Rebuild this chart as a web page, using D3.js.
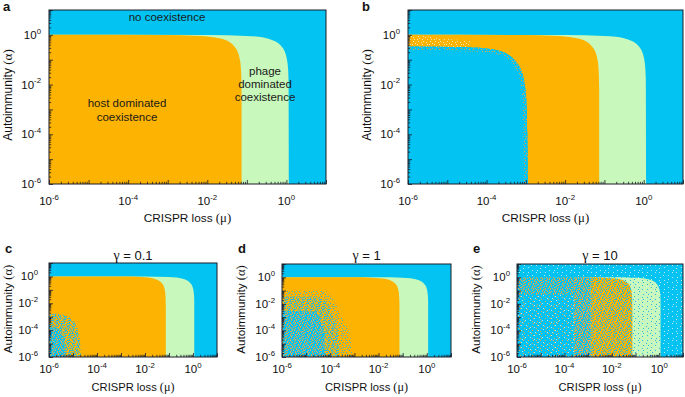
<!DOCTYPE html>
<html><head><meta charset="utf-8">
<script src="https://cdn.jsdelivr.net/npm/d3@7"></script>
<style>
body{margin:0;background:#fff;}
svg{display:block;font-family:"Liberation Sans",Arial,Helvetica,sans-serif;}
</style>
</head><body>
<svg id="chart" width="685" height="397"></svg>
<script>
// ---------------- data ----------------
const panelIds = ["a", "b", "c", "d", "e"];
const gammaValues = ["", "", "0.1", "1", "10"];
const xDomain = [1e-6, 10];
const yDomain = [1e-6, 10];
const tickExponents = [-6, -4, -2, 0];
const xTitle = ["CRISPR loss ", "(μ)"];
const yTitle = ["Autoimmunity ", "(α)"];
const regionLabelsA = {
  none: ["no coexistence"],
  host: ["host dominated", "coexistence"],
  phage: ["phage", "dominated", "coexistence"]
};
// host dominated coexistence boundary (mu, alpha)
const hostMu    = [1e-6, 1e-3, 5e-3, 0.01, 0.02, 0.03, 0.04, 0.05, 0.06, 0.065, 0.07, 0.072, 0.0735, 0.074];
const hostAlpha = [1, 0.99, 0.93, 0.86, 0.73, 0.6, 0.46, 0.32, 0.19, 0.12, 0.055, 0.027, 0.007, 1e-6];
// phage dominated coexistence boundary
const phageMu    = [1e-6, 0.01, 0.1, 0.2, 0.3, 0.4, 0.5, 0.6, 0.7, 0.8, 0.9, 1.0, 1.05, 1.1, 1.13, 1.15];
const phageAlpha = [1, 0.99, 0.91, 0.83, 0.74, 0.65, 0.57, 0.48, 0.39, 0.3, 0.22, 0.13, 0.087, 0.043, 0.017, 1e-6];
// panel b: inner no-coexistence region
const bInnerMu    = [1e-6, 4.5e-5, 2.1e-4, 3.9e-4, 5.8e-4, 7.7e-4, 9.3e-4, 1.03e-3, 1.09e-3, 1.13e-3];
const bInnerAlpha = [0.34, 0.31, 0.23, 0.145, 0.078, 0.036, 0.011, 0.0023, 1.1e-4, 1e-6];
// panel b: pale speckle band near alpha = 1
const bPaleMu    = [1e-6, 2e-6, 5e-6, 1.2e-5, 4e-5];
const bPaleAlpha = [1, 0.95, 0.8, 0.66, 0.6];
// panel c: mixed (stochastic) region
const cOuterMu    = [1e-6, 4e-6, 1e-5, 1.6e-5, 2e-5, 2.1e-5];
const cOuterAlpha = [1.8e-3, 1.4e-3, 5e-4, 1e-4, 1e-5, 1e-6];
const cCoreMu     = [1e-6, 2.5e-6, 4e-6, 5e-6];
const cCoreAlpha  = [2e-4, 1.2e-4, 3e-5, 1e-6];
// panel d: mixed region
const dOuterMu    = [1e-6, 5e-5, 1e-4, 1.9e-4, 3e-4, 5e-4, 7e-4, 8e-4];
const dOuterAlpha = [0.11, 0.1, 0.045, 6e-3, 1e-3, 2e-4, 2e-5, 1e-6];
const dMidMu      = [1e-6, 3e-5, 8e-5, 1.3e-4, 2e-4, 2.6e-4];
const dMidAlpha   = [0.035, 0.03, 8e-3, 1e-3, 1e-4, 1e-6];
const dCoreMu     = [1e-6, 2e-5, 4e-5, 5.5e-5, 6e-5];
const dCoreAlpha  = [3e-3, 2.5e-3, 5e-4, 5e-5, 1e-6];
// panel e: mu band edges inside host region, alpha of top band
const eBandEdges = [2.5e-4, 1.3e-3];
const eTopBandAlpha = 0.05;

// ---------------- style / layout ----------------
const COL = {blue: "#02C3F2", orange: "#FDB301", green: "#C8F8BB", ink: "#1c1c2a",
             dotO: "#EAA640", dotB: "#2DBAD6", pale: "#F6E7A8", light: "#B8E8EE"};
const layout = {
  a: {x0: 49, x1: 326, y0: 10, y1: 184, big: true, gap: 8},
  b: {x0: 408, x1: 683, y0: 10, y1: 184, big: true, gap: 8},
  c: {x0: 49, x1: 217, y0: 263, y1: 357, gap: 11},
  d: {x0: 282, x1: 451, y0: 264, y1: 357, gap: 7},
  e: {x0: 517, x1: 683, y0: 264, y1: 357, gap: 7}
};
const SERIF = "'Liberation Serif','Times New Roman',serif";

const svg = d3.select("#chart");
const defs = svg.append("defs");
let pid = 0;
const T = 17, A1 = 0.7548776662, A2 = 0.5698402910;
// texture tile: dots spread with a low-discrepancy sequence
function pattern(bg, layers) {
  const id = "pat" + (pid++);
  const p = defs.append("pattern").attr("id", id).attr("patternUnits", "userSpaceOnUse")
    .attr("width", T).attr("height", T);
  p.append("rect").attr("width", T).attr("height", T).attr("fill", bg);
  layers.forEach(([color, frac], j) => {
    const n = Math.round(frac * T * T), off = j * 131 + 7;
    for (let i = 0; i < n; i++) {
      const k = i + off;
      const px = Math.floor(((0.5 + k * A1) % 1) * T), py = Math.floor(((0.5 + k * A2) % 1) * T);
      p.append("rect").attr("x", px).attr("y", py).attr("width", 1).attr("height", 1).attr("fill", color);
    }
  });
  return `url(#${id})`;
}
const P = {
  core: pattern(COL.blue, [[COL.dotO, 0.3]]),
  mid: pattern(COL.orange, [[COL.dotB, 0.42]]),
  outer: pattern(COL.orange, [[COL.dotB, 0.15]]),
  bEdge: pattern(COL.blue, [[COL.dotO, 0.14]]),
  pale: pattern(COL.orange, [[COL.pale, 0.12]]),
  eBg: pattern(COL.blue, [[COL.light, 0.06]]),
  eLeft: pattern(COL.blue, [[COL.dotO, 0.08], [COL.light, 0.05]]),
  eTop: pattern(COL.blue, [[COL.dotO, 0.3]]),
  eMid: pattern(COL.blue, [[COL.dotO, 0.4]]),
  eDense: pattern(COL.orange, [[COL.dotB, 0.32]]),
  eGreen: pattern(COL.green, [[COL.dotB, 0.07], [COL.light, 0.05]])
};

function supLabel(sel, exp, fs) {
  sel.append("tspan").text("10");
  sel.append("tspan").attr("dy", -fs * 0.45).attr("font-size", fs * 0.68).text(String(exp));
}

function drawPanel(key, i) {
  const L = layout[key];
  const x = d3.scaleLog().domain(xDomain).range([L.x0, L.x1]);
  const y = d3.scaleLog().domain(yDomain).range([L.y1, L.y0]);
  const g = svg.append("g");
  const clipId = "clip" + key;
  defs.append("clipPath").attr("id", clipId).append("rect")
    .attr("x", L.x0).attr("y", L.y0).attr("width", L.x1 - L.x0).attr("height", L.y1 - L.y0);
  const plot = g.append("g").attr("clip-path", `url(#${clipId})`);
  const line = d3.line().x(d => x(d[0])).y(d => y(d[1])).curve(d3.curveMonotoneX);
  const region = (mu, al) => line(d3.zip(mu, al)) + `L${x(xDomain[0])},${y(yDomain[0])}Z`;
  const rect = (m0, m1, a0, a1, fill, parent) => (parent || plot).append("rect")
    .attr("x", x(m0)).attr("y", y(a1)).attr("width", x(m1) - x(m0)).attr("height", y(a0) - y(a1)).attr("fill", fill);

  const hostPath = region(hostMu, hostAlpha);
  const phagePath = region(phageMu, phageAlpha);

  if (key === "e") {
    rect(xDomain[0], xDomain[1], yDomain[0], yDomain[1], P.eBg);
    plot.append("path").attr("d", phagePath).attr("fill", P.eGreen);
    const hc = "hostclip" + key;
    defs.append("clipPath").attr("id", hc).append("path").attr("d", hostPath);
    const hg = plot.append("g").attr("clip-path", `url(#${hc})`);
    rect(xDomain[0], eBandEdges[0], yDomain[0], yDomain[1], P.eLeft, hg);
    rect(xDomain[0], eBandEdges[0], eTopBandAlpha, yDomain[1], P.eTop, hg);
    rect(eBandEdges[0], eBandEdges[1], yDomain[0], yDomain[1], P.eMid, hg);
    rect(eBandEdges[1], xDomain[1], yDomain[0], yDomain[1], P.eDense, hg);
  } else {
    rect(xDomain[0], xDomain[1], yDomain[0], yDomain[1], COL.blue);
    plot.append("path").attr("d", phagePath).attr("fill", COL.green);
    plot.append("path").attr("d", hostPath).attr("fill", COL.orange);
  }
  if (key === "b") {
    plot.append("path").attr("d", region(bPaleMu, bPaleAlpha)).attr("fill", P.pale);
    const innerPath = region(bInnerMu, bInnerAlpha);
    plot.append("path").attr("d", innerPath).attr("fill", COL.blue);
    const ic = "innerclip";
    defs.append("clipPath").attr("id", ic).append("path").attr("d", innerPath);
    plot.append("g").attr("clip-path", `url(#${ic})`).append("path")
      .attr("d", line(d3.zip(bInnerMu, bInnerAlpha))).attr("fill", "none")
      .attr("stroke", P.bEdge).attr("stroke-width", 8);
  }
  if (key === "c") {
    plot.append("path").attr("d", region(cOuterMu, cOuterAlpha)).attr("fill", P.mid);
    plot.append("path").attr("d", region(cCoreMu, cCoreAlpha)).attr("fill", P.core);
  }
  if (key === "d") {
    plot.append("path").attr("d", region(dOuterMu, dOuterAlpha)).attr("fill", P.outer);
    plot.append("path").attr("d", region(dMidMu, dMidAlpha)).attr("fill", P.mid);
    plot.append("path").attr("d", region(dCoreMu, dCoreAlpha)).attr("fill", P.core);
  }

  // ticks (inward)
  const minor = [];
  for (let e = -6; e < 1; e++) for (let k = 2; k <= 9; k++) minor.push(k * Math.pow(10, e));
  const majors = d3.range(-6, 2).map(e => Math.pow(10, e));
  const axB = g.append("g").attr("transform", `translate(0,${L.y1})`);
  axB.call(d3.axisBottom(x).tickValues(minor).tickSize(-2.2).tickSizeOuter(0).tickFormat(""));
  axB.append("g").call(d3.axisBottom(x).tickValues(majors).tickSize(-4).tickSizeOuter(0).tickFormat(""));
  const axL = g.append("g").attr("transform", `translate(${L.x0},0)`);
  axL.call(d3.axisLeft(y).tickValues(minor).tickSize(-2.2).tickSizeOuter(0).tickFormat(""));
  axL.append("g").call(d3.axisLeft(y).tickValues(majors).tickSize(-4).tickSizeOuter(0).tickFormat(""));
  g.selectAll(".domain").remove();
  g.selectAll(".tick line").attr("stroke", COL.ink).attr("stroke-width", 0.8);
  g.append("rect").attr("x", L.x0).attr("y", L.y0).attr("width", L.x1 - L.x0).attr("height", L.y1 - L.y0)
    .attr("fill", "none").attr("stroke", COL.ink).attr("stroke-width", 1);

  const fs = 11.5;
  const xlabY = L.big ? L.y1 + 21 : L.y1 + 16;
  tickExponents.forEach(e => {
    const t = g.append("text").attr("x", x(Math.pow(10, e))).attr("y", xlabY)
      .attr("text-anchor", "middle").attr("font-size", fs).attr("fill", "#111");
    supLabel(t, e, fs);
    const u = g.append("text").attr("x", L.x0 - L.gap).attr("y", y(Math.pow(10, e)) + 4)
      .attr("text-anchor", "end").attr("font-size", fs).attr("fill", "#111");
    supLabel(u, e, fs);
  });
  // axis titles (greek symbol in serif)
  const cx = (L.x0 + L.x1) / 2;
  const tfs = L.big ? 11.8 : 11.2;
  const xt = g.append("text").attr("x", cx).attr("y", L.big ? L.y1 + 38 : L.y1 + 34)
    .attr("text-anchor", "middle").attr("font-size", tfs).attr("fill", "#111");
  xt.append("tspan").text(xTitle[0]);
  xt.append("tspan").attr("font-family", SERIF).attr("font-size", tfs + 1).text(xTitle[1]);
  const ycx = L.x0 - 37, ycy = L.big ? 95 : (L.y0 + L.y1) / 2 - 1;
  const yfs = L.big ? 12 : 11.6;
  const yt = g.append("text").attr("transform", `translate(${ycx},${ycy}) rotate(-90)`)
    .attr("text-anchor", "middle").attr("font-size", yfs).attr("fill", "#111");
  yt.append("tspan").text(yTitle[0]);
  yt.append("tspan").attr("font-family", SERIF).attr("font-size", yfs + 1).text(yTitle[1]);
  // panel letter
  g.append("text").attr("x", L.big ? L.x0 - 46 : L.x0 - 44).attr("y", L.big ? 11 : 253)
    .attr("font-size", 13).attr("font-weight", "bold").attr("fill", "#111").text(panelIds[i]);
  if (gammaValues[i]) {
    const gt = g.append("text").attr("x", cx).attr("y", 260).attr("text-anchor", "middle")
      .attr("font-size", 13).attr("fill", "#111");
    gt.append("tspan").attr("font-family", SERIF).attr("font-size", 14).text("γ");
    gt.append("tspan").text(" = " + gammaValues[i]);
  }
  if (key === "a") {
    const lab = (lines, mx, my, step) => lines.forEach((s, j) => g.append("text")
      .attr("x", mx).attr("y", my + j * step).attr("text-anchor", "middle")
      .attr("font-size", 11.5).attr("fill", "#1a1a1a").text(s));
    lab(regionLabelsA.none, 167, 21, 13);
    lab(regionLabelsA.host, 127, 107, 13.5);
    lab(regionLabelsA.phage, 265, 75, 13);
  }
}
panelIds.forEach((k, i) => drawPanel(k, i));
</script>
</body></html>
